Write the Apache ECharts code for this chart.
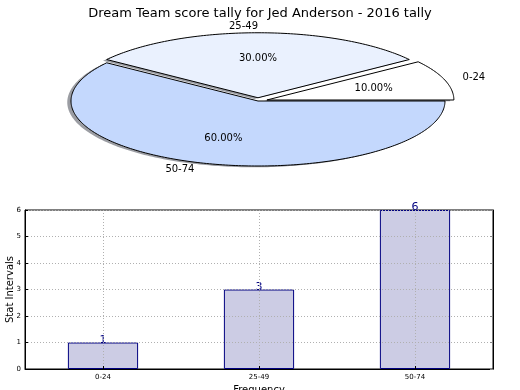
<!DOCTYPE html>
<html>
<head>
<meta charset="utf-8">
<script src="https://cdn.jsdelivr.net/npm/echarts@6/dist/echarts.min.js"></script>
<style>html,body{margin:0;padding:0;background:#fff}#c{width:520px;height:390px}</style>
</head>
<body>
<div id="c"></div>
<script>
const titleText = 'Dream Team score tally for Jed Anderson - 2016 tally';
const categories = ['0-24', '25-49', '50-74'];
const counts = [1, 3, 6];
const yTicks = [0, 1, 2, 3, 4, 5, 6];
const explode = [0.05, 0.05, 0];
const pieColors = ['#ffffff', '#eaf1fe', '#c4d8fd'];

const FONT = 'DejaVu Sans';
const CX = 258, CY = 101, RX = 187, RY = 65;
const total = counts.reduce((a, b) => a + b, 0);
const cum = [];
counts.reduce((acc, v, i) => { cum[i] = acc; return acc + v; }, 0);

function wedgePoints(cx, cy, a0, a1) {
  const pts = [[cx, cy]];
  const n = Math.max(8, Math.ceil((a1 - a0) / (Math.PI / 180)));
  for (let k = 0; k <= n; k++) {
    const a = a0 + (a1 - a0) * k / n;
    pts.push([cx + RX * Math.cos(a), cy - RY * Math.sin(a)]);
  }
  return pts;
}

function renderPie(params, api) {
  const i = params.dataIndex;
  const v = api.value(1);
  const a0 = cum[i] / total * Math.PI * 2;
  const a1 = (cum[i] + v) / total * Math.PI * 2;
  const mid = (a0 + a1) / 2;
  const ex = explode[i];
  const cx = CX + ex * RX * Math.cos(mid);
  const cy = CY - ex * RY * Math.sin(mid);
  const cosm = Math.cos(mid), sinm = Math.sin(mid);
  const lx = cx + 1.1 * RX * cosm, ly = cy - 1.1 * RY * sinm;
  const px = cx + 0.6 * RX * cosm, py = cy - 0.6 * RY * sinm;
  return {
    type: 'group',
    children: [
      { type: 'polygon', z2: 0,
        shape: { points: wedgePoints(cx - 0.02 * RX, cy + 0.02 * RY, a0, a1) },
        style: { fill: 'rgba(55,60,72,0.5)', stroke: null } },
      { type: 'polygon', z2: 5,
        shape: { points: wedgePoints(cx, cy, a0, a1) },
        style: { fill: pieColors[i], stroke: '#000', lineWidth: 1, lineJoin: 'miter' } },
      { type: 'text', x: lx, y: ly, z2: 10,
        style: { text: categories[i], font: '10px "' + FONT + '"', fill: '#000',
          align: cosm > 0.01 ? 'left' : 'right', verticalAlign: 'middle' } },
      { type: 'text', x: px, y: py, z2: 10,
        style: { text: (v / total * 100).toFixed(2) + '%', font: '10px "' + FONT + '"', fill: '#000',
          align: 'center', verticalAlign: 'middle' } }
    ]
  };
}

const chart = echarts.init(document.getElementById('c'), null, { renderer: 'canvas' });
chart.setOption({
  animation: false,
  backgroundColor: '#fff',
  title: {
    text: titleText, left: 'center', top: 2,
    textStyle: { fontFamily: FONT, fontSize: 13, fontWeight: 'normal', color: '#000' }
  },
  grid: { left: 25, right: 27, top: 210, bottom: 21, show: true, borderColor: '#000', borderWidth: 1,
    containLabel: false, outerBoundsMode: 'none' },
  xAxis: {
    type: 'category', data: categories, z: 3,
    name: 'Frequency', nameLocation: 'middle', nameGap: 16, nameMoveOverlap: false,
    nameTextStyle: { fontFamily: FONT, fontSize: 10, color: '#000' },
    axisLine: { show: true, lineStyle: { color: '#000', width: 1 } },
    axisTick: { show: true, inside: true, alignWithLabel: true, length: 3, lineStyle: { color: '#000' } },
    axisLabel: { fontFamily: FONT, fontSize: 7, color: '#000', margin: 5 },
    splitLine: { show: true, alignWithLabel: true, lineStyle: { color: '#b0b0b0', type: [1, 2], width: 1 } }
  },
  yAxis: [{
    type: 'value', min: 0, max: 6, interval: 1, z: 3,
    name: 'Stat Intervals', nameLocation: 'middle', nameGap: 10, nameRotate: 90, nameMoveOverlap: false,
    nameTextStyle: { fontFamily: FONT, fontSize: 10, color: '#000' },
    axisLine: { show: true, lineStyle: { color: '#000', width: 1 } },
    axisTick: { show: true, inside: true, length: 3, lineStyle: { color: '#000' } },
    axisLabel: { fontFamily: FONT, fontSize: 7, color: '#000', margin: 4, formatter: v => String(v) },
    splitLine: { show: true, lineStyle: { color: '#b0b0b0', type: [1, 2], width: 1 } }
  }, {
    type: 'value', min: 0, max: 6, interval: 1, position: 'right', z: 3,
    axisLine: { show: true, lineStyle: { color: '#000', width: 1 } },
    axisTick: { show: true, inside: true, length: 3, lineStyle: { color: '#888' } },
    axisLabel: { show: false }, splitLine: { show: false }
  }],
  series: [{
    type: 'bar', data: counts, barWidth: '45%', xAxisIndex: 0, yAxisIndex: 0,
    itemStyle: { color: '#ccccE4', borderColor: '#000080', borderWidth: 1 },
    label: { show: true, position: 'top', distance: -3, color: '#000080', fontFamily: FONT, fontSize: 11 },
    silent: true
  }, {
    type: 'custom', coordinateSystem: 'none', renderItem: renderPie,
    data: counts.map((v, i) => [i, v]), silent: true
  }]
});
</script>
</body>
</html>
